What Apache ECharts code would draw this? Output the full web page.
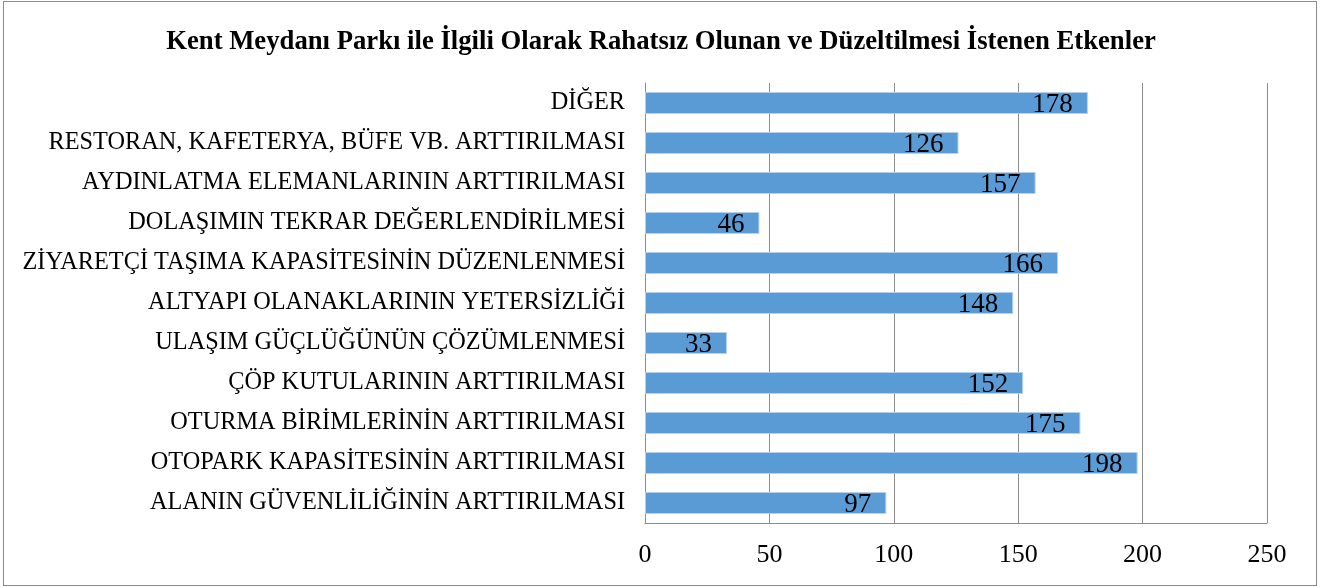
<!DOCTYPE html>
<html>
<head>
<meta charset="utf-8">
<script src="https://cdn.jsdelivr.net/npm/echarts@6/dist/echarts.min.js"></script>
<style>
  html, body {margin: 0; padding: 0; background: #fff;}
  #chart {width: 1322px; height: 587px;}
  #frame {position: absolute; left: 3px; top: 1px; width: 1312px; height: 583px; border: 1px solid #8c8c8c; pointer-events: none;}
</style>
</head>
<body>
<div id="chart"></div>
<div id="frame"></div>
<script>
// bottom to top, as ECharts draws a category y axis
const categories = [
  'ALANIN GÜVENLİLİĞİNİN ARTTIRILMASI',
  'OTOPARK KAPASİTESİNİN ARTTIRILMASI',
  'OTURMA BİRİMLERİNİN ARTTIRILMASI',
  'ÇÖP KUTULARININ ARTTIRILMASI',
  'ULAŞIM GÜÇLÜĞÜNÜN ÇÖZÜMLENMESİ',
  'ALTYAPI OLANAKLARININ YETERSİZLİĞİ',
  'ZİYARETÇİ TAŞIMA KAPASİTESİNİN DÜZENLENMESİ',
  'DOLAŞIMIN TEKRAR DEĞERLENDİRİLMESİ',
  'AYDINLATMA ELEMANLARININ ARTTIRILMASI',
  'RESTORAN, KAFETERYA, BÜFE VB. ARTTIRILMASI',
  'DİĞER'
]
const values = [97, 198, 175, 152, 33, 148, 166, 46, 157, 126, 178]
const xTicks = [0, 50, 100, 150, 200, 250]

const serif = '"Liberation Serif", "DejaVu Serif", serif'
const chart = echarts.init(document.getElementById('chart'))
chart.setOption({
  animation: false,
  title: {
    text: 'Kent Meydanı Parkı ile İlgili Olarak Rahatsız Olunan ve Düzeltilmesi İstenen Etkenler',
    left: 'center',
    top: 24,
    textStyle: {fontFamily: serif, fontSize: 26.7, fontWeight: 'bold', color: '#000'}
  },
  grid: {left: 645, right: 55, top: 83, bottom: 64},
  xAxis: {
    type: 'value',
    min: xTicks[0],
    max: xTicks[xTicks.length - 1],
    interval: 50,
    axisLine: {show: true, lineStyle: {color: '#8c8c8c'}},
    axisTick: {show: false},
    splitLine: {lineStyle: {color: '#8c8c8c', width: 1}},
    axisLabel: {fontFamily: serif, fontSize: 26, color: '#000', margin: 19}
  },
  yAxis: {
    type: 'category',
    data: categories,
    axisLine: {show: true, lineStyle: {color: '#8c8c8c'}},
    axisTick: {show: false},
    axisLabel: {fontFamily: serif, fontSize: 24.3, color: '#000', margin: 20}
  },
  series: [{
    type: 'bar',
    data: values,
    barCategoryGap: '45%',
    itemStyle: {color: '#5b9bd5', borderColor: '#b4d0ec', borderWidth: 1},
    label: {
      show: true,
      position: 'insideRight',
      distance: 15,
      fontFamily: serif,
      fontSize: 27,
      color: '#000',
      offset: [0, 2]
    }
  }]
})
</script>
</body>
</html>
